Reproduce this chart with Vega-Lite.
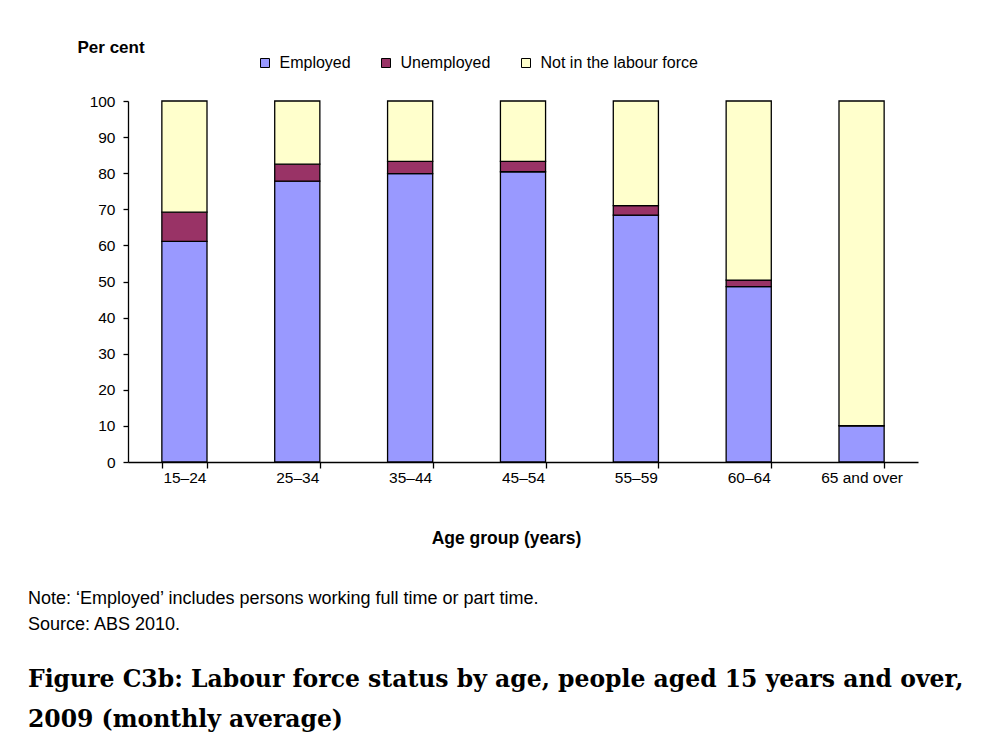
{
  "$schema": "https://vega.github.io/schema/vega-lite/v6.json",
  "background": "white",
  "padding": {"left": 28, "top": 38, "right": 5, "bottom": 5},
  "title": {
    "text": ["Figure C3b: Labour force status by age, people aged 15 years and over,", "2009 (monthly average)"],
    "orient": "bottom",
    "anchor": "start",
    "font": "DejaVu Serif",
    "fontSize": 23.5,
    "fontWeight": "bold",
    "lineHeight": 40,
    "color": "black",
    "offset": 34
  },
  "vconcat": [
    {
      "title": {
        "text": ["Note: ‘Employed’ includes persons working full time or part time.", "Source: ABS 2010."],
        "orient": "bottom",
        "anchor": "start",
        "font": "Liberation Sans",
        "fontSize": 18,
        "fontWeight": "normal",
        "lineHeight": 26,
        "color": "black",
        "offset": 43,
        "dx": -49
      },
      "width": 790,
      "height": 361,
      "data": {
        "values": [
          {"age": "15–24", "status": "Employed", "k": 1, "pct": 61.1},
          {"age": "15–24", "status": "Unemployed", "k": 2, "pct": 8.1},
          {"age": "15–24", "status": "Not in the labour force", "k": 3, "pct": 30.8},
          {"age": "25–34", "status": "Employed", "k": 1, "pct": 77.8},
          {"age": "25–34", "status": "Unemployed", "k": 2, "pct": 4.7},
          {"age": "25–34", "status": "Not in the labour force", "k": 3, "pct": 17.5},
          {"age": "35–44", "status": "Employed", "k": 1, "pct": 79.9},
          {"age": "35–44", "status": "Unemployed", "k": 2, "pct": 3.4},
          {"age": "35–44", "status": "Not in the labour force", "k": 3, "pct": 16.7},
          {"age": "45–54", "status": "Employed", "k": 1, "pct": 80.4},
          {"age": "45–54", "status": "Unemployed", "k": 2, "pct": 2.9},
          {"age": "45–54", "status": "Not in the labour force", "k": 3, "pct": 16.7},
          {"age": "55–59", "status": "Employed", "k": 1, "pct": 68.4},
          {"age": "55–59", "status": "Unemployed", "k": 2, "pct": 2.6},
          {"age": "55–59", "status": "Not in the labour force", "k": 3, "pct": 29.0},
          {"age": "60–64", "status": "Employed", "k": 1, "pct": 48.6},
          {"age": "60–64", "status": "Unemployed", "k": 2, "pct": 1.8},
          {"age": "60–64", "status": "Not in the labour force", "k": 3, "pct": 49.6},
          {"age": "65 and over", "status": "Employed", "k": 1, "pct": 10.0},
          {"age": "65 and over", "status": "Unemployed", "k": 2, "pct": 0.1},
          {"age": "65 and over", "status": "Not in the labour force", "k": 3, "pct": 89.9}
        ]
      },
      "mark": {"type": "bar", "stroke": "black", "strokeWidth": 1.3},
      "encoding": {
        "x": {
          "field": "age",
          "type": "nominal",
          "sort": null,
          "scale": {"paddingInner": 0.6, "paddingOuter": 0.3},
          "axis": {
            "title": "Age group (years)",
            "labelAngle": 0,
            "labelFontSize": 15.5,
            "labelColor": "black",
            "labelPadding": 2,
            "tickBand": "extent",
            "tickSize": 6,
            "tickColor": "black",
            "tickWidth": 1.3,
            "domainColor": "black",
            "domainWidth": 1.3,
            "grid": false,
            "titleFontSize": 17.5,
            "titleFontWeight": "bold",
            "titleColor": "black",
            "titleX": 378,
            "titleY": 76,
            "titleBaseline": "middle"
          }
        },
        "y": {
          "field": "pct",
          "type": "quantitative",
          "stack": "zero",
          "scale": {"domain": [0, 100]},
          "axis": {
            "title": "Per cent",
            "values": [0, 10, 20, 30, 40, 50, 60, 70, 80, 90, 100],
            "labelFontSize": 15.5,
            "labelColor": "black",
            "labelPadding": 8,
            "tickSize": 5,
            "tickColor": "black",
            "tickWidth": 1.3,
            "domainColor": "black",
            "domainWidth": 1.3,
            "grid": false,
            "titleAngle": 0,
            "titleAlign": "left",
            "titleBaseline": "middle",
            "titleX": -51,
            "titleY": -54,
            "titleFontSize": 17,
            "titleFontWeight": "bold",
            "titleColor": "black"
          }
        },
        "color": {
          "field": "status",
          "type": "nominal",
          "scale": {
            "domain": ["Employed", "Unemployed", "Not in the labour force"],
            "range": ["#9999ff", "#993366", "#ffffcc"]
          },
          "legend": {
            "title": null,
            "orient": "none",
            "direction": "horizontal",
            "legendX": 129,
            "legendY": -46,
            "symbolType": "square",
            "symbolSize": 81,
            "symbolStrokeColor": "black",
            "symbolStrokeWidth": 1,
            "labelFontSize": 16,
            "labelColor": "black",
            "labelOffset": 6.5,
            "columnPadding": 27,
            "padding": 0
          }
        },
        "order": {"field": "k", "type": "quantitative"}
      }
    }
  ],
  "config": {
    "view": {"stroke": null},
    "font": "Liberation Sans",
    "concat": {"spacing": 0}
  }
}
